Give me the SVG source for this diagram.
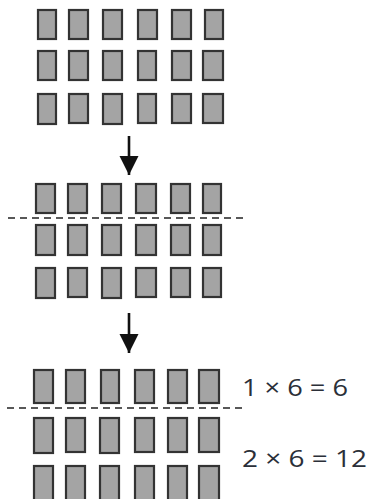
<svg xmlns="http://www.w3.org/2000/svg" width="370" height="499" viewBox="0 0 370 499">
<style>
.b{fill:#a4a4a4;stroke:#333;stroke-width:2.2}
.d{stroke:#222;stroke-width:1.6;stroke-dasharray:7,5;fill:none}
.a{stroke:#111;stroke-width:2.6;fill:none}
.t{font-family:"Open Sans","Liberation Sans",sans-serif;font-size:24px;fill:#2b2f38}
</style>
<defs>
<marker id="ah" viewBox="0 0 10 10" refX="10" refY="5" markerWidth="7.5" markerHeight="7.5" orient="auto" markerUnits="strokeWidth"><path d="M0,0 L10,5 L0,10 z" fill="#111"/></marker>
</defs>
<rect width="370" height="499" fill="#fff"/>
<g id="grid1">
<g id="g1r1"><rect class="b" x="38" y="10" width="18" height="29"/><rect class="b" x="69" y="10" width="19" height="29"/><rect class="b" x="103" y="10" width="19" height="29"/><rect class="b" x="138" y="10" width="19" height="29"/><rect class="b" x="172" y="10" width="19" height="29"/><rect class="b" x="205" y="10" width="18" height="29"/></g>
<g id="g1r2"><rect class="b" x="38" y="51" width="18" height="29"/><rect class="b" x="69" y="51" width="19" height="29"/><rect class="b" x="103" y="51" width="19" height="29"/><rect class="b" x="138" y="51" width="18" height="29"/><rect class="b" x="172" y="51" width="19" height="29"/><rect class="b" x="203" y="51" width="20" height="29"/></g>
<g id="g1r3"><rect class="b" x="38" y="94" width="18" height="30"/><rect class="b" x="69" y="94" width="19" height="29"/><rect class="b" x="103" y="94" width="19" height="30"/><rect class="b" x="138" y="94" width="18" height="29"/><rect class="b" x="172" y="94" width="19" height="29"/><rect class="b" x="203" y="94" width="20" height="29"/></g>
</g>
<g id="grid2">
<g id="g2r1"><rect class="b" x="36" y="184" width="19" height="29"/><rect class="b" x="68" y="184" width="19" height="29"/><rect class="b" x="102" y="184" width="19" height="29"/><rect class="b" x="136" y="184" width="20" height="29"/><rect class="b" x="171" y="184" width="19" height="29"/><rect class="b" x="203" y="184" width="18" height="29"/></g>
<g id="g2r2"><rect class="b" x="36" y="225" width="19" height="30"/><rect class="b" x="68" y="225" width="19" height="30"/><rect class="b" x="102" y="225" width="19" height="30"/><rect class="b" x="136" y="225" width="20" height="30"/><rect class="b" x="171" y="225" width="19" height="30"/><rect class="b" x="203" y="225" width="18" height="30"/></g>
<g id="g2r3"><rect class="b" x="36" y="268" width="19" height="30"/><rect class="b" x="68" y="268" width="19" height="29"/><rect class="b" x="102" y="268" width="19" height="30"/><rect class="b" x="136" y="268" width="20" height="29"/><rect class="b" x="171" y="268" width="19" height="29"/><rect class="b" x="203" y="268" width="18" height="29"/></g>
</g>
<g id="grid3">
<g id="g3r1"><rect class="b" x="34" y="370" width="19" height="33"/><rect class="b" x="66" y="370" width="19" height="33"/><rect class="b" x="101" y="370" width="18" height="33"/><rect class="b" x="135" y="370" width="19" height="33"/><rect class="b" x="168" y="370" width="19" height="33"/><rect class="b" x="199" y="370" width="20" height="33"/></g>
<g id="g3r2"><rect class="b" x="34" y="418" width="19" height="35"/><rect class="b" x="66" y="418" width="19" height="34"/><rect class="b" x="100" y="418" width="19" height="35"/><rect class="b" x="135" y="418" width="19" height="34"/><rect class="b" x="168" y="418" width="19" height="34"/><rect class="b" x="199" y="418" width="20" height="34"/></g>
<g id="g3r3"><rect class="b" x="34" y="466" width="19" height="40"/><rect class="b" x="66" y="466" width="19" height="40"/><rect class="b" x="100" y="466" width="19" height="40"/><rect class="b" x="135" y="466" width="19" height="40"/><rect class="b" x="168" y="466" width="19" height="40"/><rect class="b" x="199" y="466" width="20" height="40"/></g>
</g>
<g id="connectors">
<line class="a" x1="129" y1="136" x2="129" y2="175" marker-end="url(#ah)"/>
<line class="a" x1="129" y1="313" x2="129" y2="353" marker-end="url(#ah)"/>
<line class="d" x1="8" y1="218" x2="247" y2="218"/>
<line class="d" x1="7" y1="408" x2="246" y2="408"/>
</g>
<g id="labels">
<text class="t" x="242" y="396" textLength="106" lengthAdjust="spacingAndGlyphs">1 × 6 = 6</text>
<text class="t" x="242" y="467" textLength="125" lengthAdjust="spacingAndGlyphs">2 × 6 = 12</text>
</g>
</svg>
